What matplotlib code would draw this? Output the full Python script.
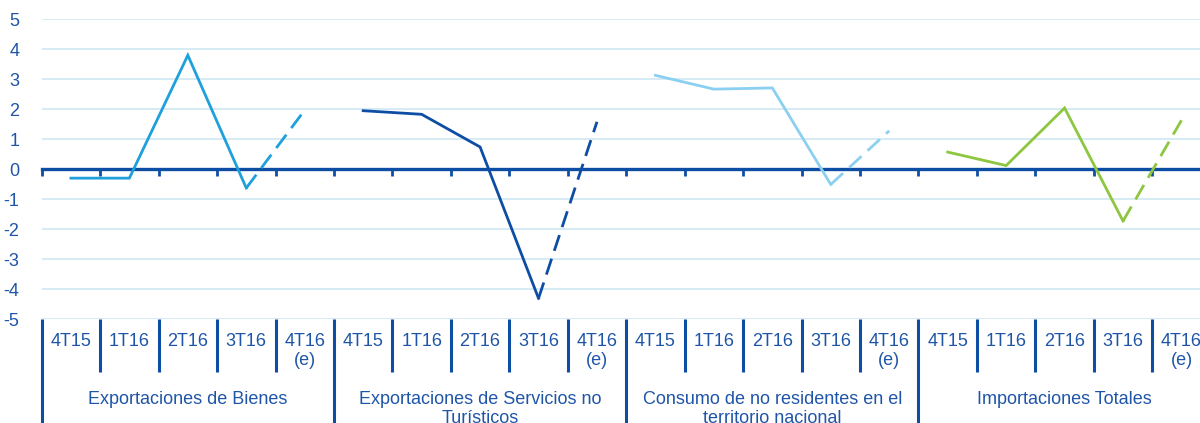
import numpy as np
import matplotlib.pyplot as plt
import matplotlib.transforms as mtransforms

plt.rcParams['font.family'] = ['Liberation Sans', 'DejaVu Sans']
plt.rcParams['axes.unicode_minus'] = False

# Data
quarters = ['4T15', '1T16', '2T16', '3T16', '4T16\n(e)']
groups = ['Exportaciones de Bienes',
          'Exportaciones de Servicios no\nTurísticos',
          'Consumo de no residentes en el\nterritorio nacional',
          'Importaciones Totales']
bienes = [-0.3, -0.3, 3.8, -0.63, 1.97]
servicios = [1.95, 1.83, 0.74, -4.31, 1.58]
consumo = [3.13, 2.67, 2.71, -0.51, 1.28]
importaciones = [0.57, 0.12, 2.04, -1.73, 1.63]
series = [bienes, servicios, consumo, importaciones]
colors = ['#1EA0DC', '#0E4DA4', '#8BD0F0', '#8DC63F']

text_color = '#1F55A8'
axis_color = '#0E4DA4'
grid_color = '#CFE8F3'

fig = plt.figure(figsize=(12, 4.23), dpi=100)
ax = fig.add_axes([41.7 / 1200, 1 - 319 / 423, 1169 / 1200, 299.7 / 423])

n_q = len(quarters)
for g, (vals, c) in enumerate(zip(series, colors)):
    x = np.arange(n_q) + g * n_q
    ax.plot(x[:4], vals[:4], color=c, lw=2, solid_joinstyle='miter')
    ax.plot(x[3:], vals[3:], color=c, lw=2, dashes=(6, 3))

n = n_q * len(groups)
ax.set_xlim(-0.5, n - 0.5)
ax.set_ylim(-5, 5)

# grid
ax.set_yticks(np.arange(-5, 6))
ax.yaxis.grid(True, color=grid_color, lw=1.2)
ax.set_axisbelow(True)
ax.tick_params(axis='y', length=0, pad=16, labelsize=13, labelcolor=text_color)

# axis line at zero
for s in ['left', 'right', 'top']:
    ax.spines[s].set_visible(False)
ax.spines['bottom'].set_position(('data', 0))
ax.spines['bottom'].set_color(axis_color)
ax.spines['bottom'].set_linewidth(2.4)
ax.spines['bottom'].set_zorder(1)
bounds = np.arange(n + 1) - 0.5
ax.set_xticks(bounds)
ax.set_xticklabels([])
ax.tick_params(axis='x', direction='out', length=5, width=2, color=axis_color)

# category labels below the chart
trans = mtransforms.blended_transform_factory(ax.transData, ax.transAxes)
for i, b in enumerate(bounds):
    y_end = -0.36 if i % n_q == 0 else -0.177
    ax.plot([b, b], [0, y_end], transform=trans, color=axis_color, lw=2.2,
            clip_on=False, solid_capstyle='butt')
for g, name in enumerate(groups):
    for q, lab in enumerate(quarters):
        ax.text(g * n_q + q, -0.048, lab, transform=trans, ha='center', va='top',
                fontsize=13, color=text_color, linespacing=1.15)
    ax.text(g * n_q + (n_q - 1) / 2, -0.241, name, transform=trans, ha='center',
            va='top', fontsize=13, color=text_color, linespacing=1.15)

fig.savefig('out.png', dpi=100)
